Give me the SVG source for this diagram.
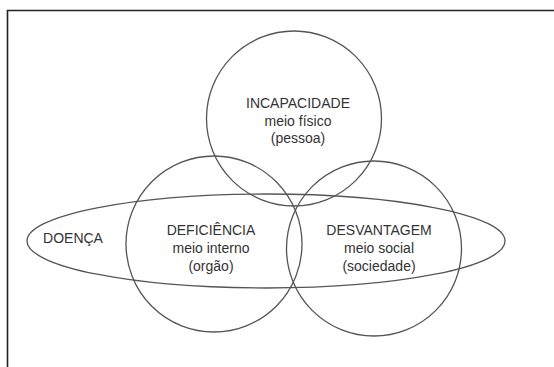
<svg xmlns="http://www.w3.org/2000/svg" width="554" height="367" viewBox="0 0 554 367">
<style>
.shape{fill:none;stroke:#555;stroke-width:1.3}
.frame{fill:none;stroke:#222;stroke-width:1.6}
text{font-family:"Liberation Sans",Arial,sans-serif;font-size:14px;fill:#333;text-anchor:middle}
</style>
<rect width="554" height="367" fill="#fff"/>
<path class="frame" d="M7.5 367 V10.5 H554"/>
<g id="connectors"></g>
<g id="incapacidade">
<circle class="shape" cx="294" cy="118.5" r="87.5"/>
<text x="298" y="108">INCAPACIDADE</text>
<text x="298" y="126">meio físico</text>
<text x="298" y="143">(pessoa)</text>
</g>
<g id="deficiencia">
<circle class="shape" cx="214" cy="244" r="88"/>
<text x="211" y="235">DEFICIÊNCIA</text>
<text x="211" y="253">meio interno</text>
<text x="211" y="271">(orgão)</text>
</g>
<g id="desvantagem">
<circle class="shape" cx="374" cy="248.5" r="87.5"/>
<text x="379" y="235">DESVANTAGEM</text>
<text x="379" y="253">meio social</text>
<text x="379" y="271">(sociedade)</text>
</g>
<g id="doenca">
<ellipse class="shape" cx="266" cy="241" rx="239" ry="47"/>
<text x="73" y="243">DOENÇA</text>
</g>
</svg>
